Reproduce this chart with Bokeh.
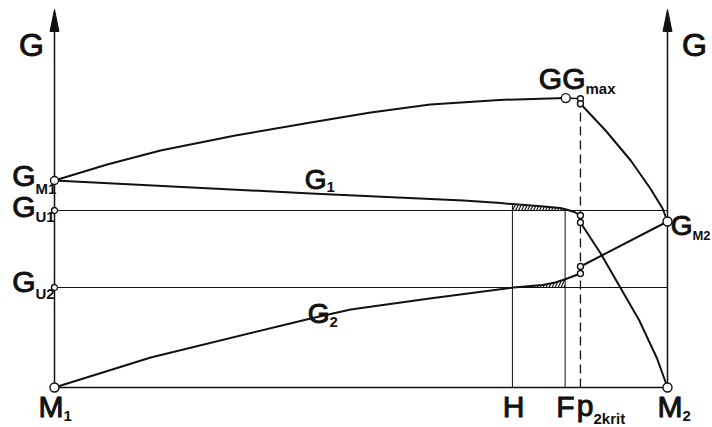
import numpy as np
from bokeh.plotting import figure
from bokeh.models import Range1d
from bokeh.embed import file_html
from bokeh.resources import INLINE
from bokeh.core.properties import value

# ---------------- data ----------------
# x: position between the two axes (0 = M1, 100 = M2); G: free enthalpy (arbitrary units)
X_H = 74.7
X_F = 83.3
X_P2KRIT = 85.8
X_M2 = 100.0

G_M1 = 103.5
G_U1 = 88.5
G_U2 = 50.0
G_M2 = 83.0
G_AXIS_TOP = 189.0

top_x = [0.0, 8.6, 17.3, 29.5, 41.8, 51.6, 61.3, 72.6, 83.4]
top_g = [103.5, 111.5, 118.5, 126.0, 132.5, 137.5, 141.5, 143.8, 144.7]

GG_X, GG_G = 83.4, 144.7
gmax_g = [144.4, 141.9]

g1_x = [0.0, 41.8, 66.7, 72.8, 74.7, 79.8, 82.5, 83.5, 84.8, 85.8]
g1_g = [103.5, 97.0, 93.5, 92.2, 91.7, 90.5, 89.75, 89.0, 87.75, 86.0]

g2_x = [0.0, 15.7, 41.8, 48.3, 61.2, 74.9, 79.6, 81.7, 83.2, 85.8]
g2_g = [0.0, 15.0, 34.5, 39.0, 44.5, 50.0, 51.3, 52.5, 54.0, 57.0]

m2top_x = [85.8, 89.9, 94.0, 97.2, 99.2, 100.0]
m2top_g = [141.9, 128.5, 113.5, 99.5, 89.5, 83.0]

g1b_x = [85.8, 89.1, 92.3, 95.4, 98.3, 100.0]
g1b_g = [82.5, 67.0, 50.0, 33.5, 14.5, 0.0]

g2b_x = [85.8, 100.0]
g2b_g = [60.5, 83.0]

# ---------------- layout helpers ----------------
W, H = 712, 427
SX = 6.13          # px per x unit
SY = 2.0           # px per G unit
X0_PX = 54         # px of x = 0
Y0_PX = 387        # px (from top) of G = 0


def fx(px):
    return (px - X0_PX) / SX


def fg(py):
    return (Y0_PX - py) / SY


p = figure(width=W, height=H,
           x_range=Range1d(-X0_PX / SX, (W - X0_PX) / SX),
           y_range=Range1d(-(H - Y0_PX) / SY, Y0_PX / SY),
           x_axis_type=None, y_axis_type=None,
           output_backend="svg", toolbar_location=None, min_border=0)
p.grid.visible = False
p.outline_line_color = None
p.background_fill_color = "white"
p.border_fill_color = "white"

INK = "#111111"

# hatched slivers between H and F
hx1 = [X_H] + [x for x in g1_x if X_H < x < X_F] + [X_F]
p.varea(x=hx1, y1=np.interp(hx1, g1_x, g1_g).tolist(), y2=[G_U1] * len(hx1),
        fill_color=None, fill_alpha=0, hatch_pattern="right_diagonal_line",
        hatch_color=INK, hatch_scale=6, hatch_weight=1.2)
hx2 = [X_H] + [x for x in g2_x if X_H < x < X_F] + [X_F]
p.varea(x=hx2, y1=[G_U2] * len(hx2), y2=np.interp(hx2, g2_x, g2_g).tolist(),
        fill_color=None, fill_alpha=0, hatch_pattern="right_diagonal_line",
        hatch_color=INK, hatch_scale=6, hatch_weight=1.2)

# axes with arrow heads
arrow_len = 22 / SY
arrow_hw = 4.5 / SX
for ax in (0.0, X_M2):
    p.line([ax, ax], [0, G_AXIS_TOP - arrow_len], line_color=INK, line_width=1.5)
    p.patch([ax - arrow_hw, ax, ax + arrow_hw],
            [G_AXIS_TOP - arrow_len, G_AXIS_TOP, G_AXIS_TOP - arrow_len],
            fill_color=INK, line_color=INK, line_width=1)

# horizontal reference lines
for gl, lw in ((0.0, 1.5), (G_U1, 1.0), (G_U2, 1.0)):
    p.line([0, X_M2], [gl, gl], line_color=INK, line_width=lw)

# verticals H and F
for xv in (X_H, X_F):
    p.line([xv, xv], [0, float(np.interp(xv, g1_x, g1_g))], line_color=INK, line_width=1.0)

# dashed p2krit line
p.line([X_P2KRIT, X_P2KRIT], [0, gmax_g[1]], line_color=INK, line_width=1.3, line_dash="9 5")

# curves
for xs, gs in ((top_x, top_g), (g1_x, g1_g), (g2_x, g2_g),
               (m2top_x, m2top_g), (g1b_x, g1b_g), (g2b_x, g2b_g)):
    p.line(xs, gs, line_color=INK, line_width=2.0, line_join="round")
p.line([GG_X, X_P2KRIT], [GG_G, gmax_g[0]], line_color=INK, line_width=1.5)

# circles
cx = [0, 0, 0, 0, GG_X, X_P2KRIT, X_P2KRIT, X_P2KRIT, X_P2KRIT, X_P2KRIT, X_P2KRIT, X_M2, X_M2]
cg = [G_M1, G_U1, G_U2, 0, GG_G, gmax_g[0], gmax_g[1], g1_g[-1], g1b_g[0], g2b_g[0], g2_g[-1], G_M2, 0]
cs = [8, 6, 6, 9, 9, 6, 6, 6, 6, 6, 6, 9, 9]
p.scatter(cx, cg, size=cs, marker="circle", fill_color="white", line_color=INK, line_width=1.4)

FONT = value("Liberation Sans")


def tpos(py, size):
    # compensate the renderer's baseline offset (about a third of the font size)
    return fg(py - 0.33 * size)


# labels: (main, sub, boundary x px, main baseline py, sub baseline py, main size, sub size)
labels = [
    ("G", "M1", 35, 185, 193, 30, 15),
    ("G", "U1", 35, 216, 221, 30, 15),
    ("G", "U2", 35, 291, 298, 30, 15),
    ("GG", "max", 585, 88, 93, 30, 15),
    ("G", "1", 326, 188, 191, 28, 15),
    ("G", "2", 329, 322, 326, 28, 15),
    ("G", "M2", 692, 234, 239, 28, 13),
    ("M", "1", 63, 416, 420, 30, 15),
    ("p", "2krit", 593, 415, 423, 30, 15),
    ("M", "2", 682, 416, 420, 30, 15),
]
for main, sub, bx, mb, sb, size, ssize in labels:
    p.text([fx(bx)], [tpos(mb, size)], text=[main], text_font=FONT,
           text_font_size=value(f"{size}px"), text_outline_color=INK,
           text_align="right", text_baseline="alphabetic", text_color=INK)
    p.text([fx(bx)], [tpos(sb, ssize)], text=[sub], text_font=FONT,
           text_font_size=value(f"{ssize}px"),
           text_font_style="bold", text_align="left", text_baseline="alphabetic", text_color=INK)

# single labels centred
singles = [("G", 31, 55, 32), ("G", 694, 55, 32), ("H", 513, 416, 30), ("F", 565, 416, 30)]
for t, cxp, by, size in singles:
    p.text([fx(cxp)], [tpos(by, size)], text=[t], text_font=FONT, text_font_size=value(f"{size}px"),
           text_outline_color=INK,
           text_align="center", text_baseline="alphabetic", text_color=INK)

open("out.html", "w").write(file_html(p, INLINE))
